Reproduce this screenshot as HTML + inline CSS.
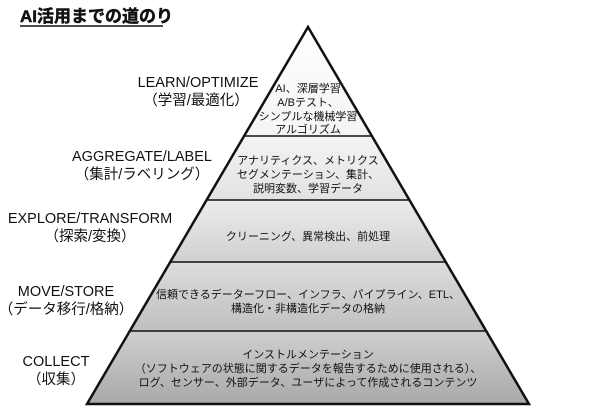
<!DOCTYPE html>
<html><head><meta charset="utf-8"><style>
html,body{margin:0;padding:0;background:#fff;}
svg{display:block;}
text{font-family:"Liberation Sans","Noto Sans CJK JP",sans-serif;fill:#111;}
</style></head><body>
<svg width="600" height="417" viewBox="0 0 600 417" xmlns="http://www.w3.org/2000/svg">
<defs>
<clipPath id="tri"><polygon points="308,27 87,404 529,404"/></clipPath>
<linearGradient id="g1" x1="0" y1="0" x2="0" y2="1"><stop offset="0" stop-color="#ffffff"/><stop offset="1" stop-color="#f4f4f4"/></linearGradient>
<linearGradient id="g2" x1="0" y1="0" x2="0" y2="1"><stop offset="0" stop-color="#f4f4f4"/><stop offset="1" stop-color="#e2e2e2"/></linearGradient>
<linearGradient id="g3" x1="0" y1="0" x2="0" y2="1"><stop offset="0" stop-color="#ececec"/><stop offset="1" stop-color="#d0d0d0"/></linearGradient>
<linearGradient id="g4" x1="0" y1="0" x2="0" y2="1"><stop offset="0" stop-color="#dcdcdc"/><stop offset="1" stop-color="#c0c0c0"/></linearGradient>
<linearGradient id="g5" x1="0" y1="0" x2="0" y2="1"><stop offset="0" stop-color="#cfcfcf"/><stop offset="1" stop-color="#a9a9a9"/></linearGradient>
</defs>
<text x="20" y="22" font-size="17" font-weight="bold" stroke="#111" stroke-width="0.5">AI活用までの道のり</text>
<line x1="20" y1="26" x2="163" y2="26" stroke="#111" stroke-width="1.5"/>
<g clip-path="url(#tri)">
<rect x="0" y="27" width="600" height="109" fill="url(#g1)"/>
<rect x="0" y="136" width="600" height="64" fill="url(#g2)"/>
<rect x="0" y="200" width="600" height="62" fill="url(#g3)"/>
<rect x="0" y="262" width="600" height="69" fill="url(#g4)"/>
<rect x="0" y="331" width="600" height="73" fill="url(#g5)"/>
</g>
<g stroke="#111" stroke-width="1.5">
<line x1="244" y1="136" x2="372" y2="136"/>
<line x1="207" y1="200" x2="409" y2="200"/>
<line x1="170" y1="262" x2="446" y2="262"/>
<line x1="130" y1="331" x2="486" y2="331"/>
</g>
<polygon points="308,27 87,404 529,404" fill="none" stroke="#111" stroke-width="2.5" stroke-linejoin="miter"/>
<g font-size="11" text-anchor="middle">
<text x="308" y="92">AI、深層学習</text>
<text x="308" y="106">A/Bテスト、</text>
<text x="308" y="120">シンプルな機械学習</text>
<text x="308" y="133">アルゴリズム</text>
<text x="308" y="164">アナリティクス、メトリクス</text>
<text x="308" y="178">セグメンテーション、集計、</text>
<text x="308" y="192">説明変数、学習データ</text>
<text x="308" y="240">クリーニング、異常検出、前処理</text>
<text x="308" y="298">信頼できるデーターフロー、インフラ、パイプライン、ETL、</text>
<text x="308" y="312">構造化・非構造化データの格納</text>
<text x="308" y="358">インストルメンテーション</text>
<text x="308" y="372">（ソフトウェアの状態に関するデータを報告するために使用される）、</text>
<text x="308" y="386">ログ、センサー、外部データ、ユーザによって作成されるコンテンツ</text>
</g>
<g font-size="14.5" text-anchor="middle">
<text x="198" y="87">LEARN/OPTIMIZE</text>
<text x="196" y="105">（学習/最適化）</text>
<text x="142" y="161">AGGREGATE/LABEL</text>
<text x="142" y="179">（集計/ラベリング）</text>
<text x="90" y="223">EXPLORE/TRANSFORM</text>
<text x="90" y="241">（探索/変換）</text>
<text x="66" y="296">MOVE/STORE</text>
<text x="66" y="314">（データ移行/格納）</text>
<text x="56" y="366">COLLECT</text>
<text x="56" y="384">（収集）</text>
</g>
</svg>
</body></html>
